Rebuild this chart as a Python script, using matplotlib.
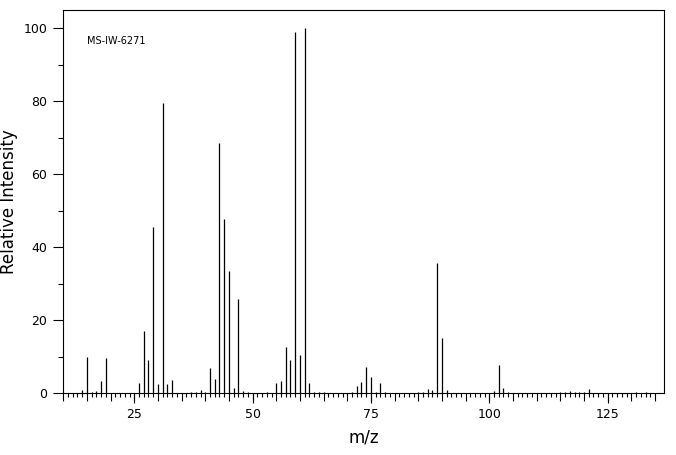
import numpy as np
import matplotlib
matplotlib.use("Agg")
import matplotlib.pyplot as plt
from matplotlib.ticker import FixedLocator, NullFormatter

# mass spectrum peaks
mz = [14, 15, 16, 17, 18, 19, 26, 27, 28, 29, 30, 31, 32, 33,
      37, 38, 39, 40, 41, 42, 43, 44, 45, 46, 47, 48, 49, 53,
      55, 56, 57, 58, 59, 60, 61, 62, 63, 64, 65,
      71, 72, 73, 74, 75, 76, 77, 78,
      85, 86, 87, 88, 89, 90, 91,
      101, 102, 103, 104,
      115, 116, 117, 118, 119, 120, 121, 131, 133]
intensity = [0.7, 9.8, 0.2, 0.5, 3.3, 9.5, 2.7, 16.9, 9.0, 45.6, 2.4, 79.4, 2.4, 3.5,
             0.2, 0.2, 0.7, 0.2, 6.8, 3.7, 68.4, 47.6, 33.4, 1.5, 25.9, 0.5, 0.2, 0.2,
             2.6, 3.4, 12.5, 9.1, 98.9, 10.5, 100.0, 2.6, 0.4, 0.2, 0.2,
             0.3, 1.8, 2.9, 7.1, 4.3, 0.2, 2.7, 0.2,
             0.2, 0.3, 1.0, 0.7, 35.7, 15.2, 0.7,
             0.5, 7.6, 1.5, 0.2,
             0.2, 0.2, 0.5, 0.2, 0.2, 0.2, 1.0, 0.2, 0.2]
x_labels = [25, 50, 75, 100, 125]
y_labels = [0, 20, 40, 60, 80, 100]
code = "MS-IW-6271"

fig = plt.figure(figsize=(6.76, 4.55), dpi=100)
ax = fig.add_axes([0.0936, 0.1363, 0.8893, 0.8418])

ax.vlines(mz, 0, intensity, colors="black", linewidth=0.9)

ax.set_xlim(10, 137)
ax.set_ylim(0, 105)

for s in ax.spines.values():
    s.set_linewidth(0.8)

# x ticks: every 1 short, every 5 medium, every 25 long with labels
ax.xaxis.set_major_locator(FixedLocator(np.arange(10, 136, 5)))
ax.xaxis.set_minor_locator(FixedLocator(np.arange(10, 136, 1)))
ax.xaxis.set_major_formatter(NullFormatter())
ax.tick_params(axis="x", which="major", length=5.5, width=0.8, direction="out")
ax.tick_params(axis="x", which="minor", length=3.0, width=0.8, direction="out")

sec = ax.secondary_xaxis("bottom")
sec.set_xticks(x_labels)
sec.set_xticklabels([str(v) for v in x_labels], fontsize=9)
sec.tick_params(length=7.5, width=0.8, pad=3)
sec.spines["bottom"].set_visible(False)

ax.set_yticks(y_labels)
ax.set_yticklabels([str(v) for v in y_labels], fontsize=9)
ax.yaxis.set_minor_locator(FixedLocator(np.arange(10, 100, 20)))
ax.tick_params(axis="y", which="major", length=7.5, width=0.8, pad=4)
ax.tick_params(axis="y", which="minor", length=3.8, width=0.8)

sec.set_xlabel("m/z", fontsize=12, labelpad=6)
ax.set_ylabel("Relative Intensity", fontsize=12, labelpad=4)

ax.text(0.04, 0.919, code, transform=ax.transAxes, fontsize=7,
        va="center", ha="left")

fig.savefig("out.png", dpi=100)
